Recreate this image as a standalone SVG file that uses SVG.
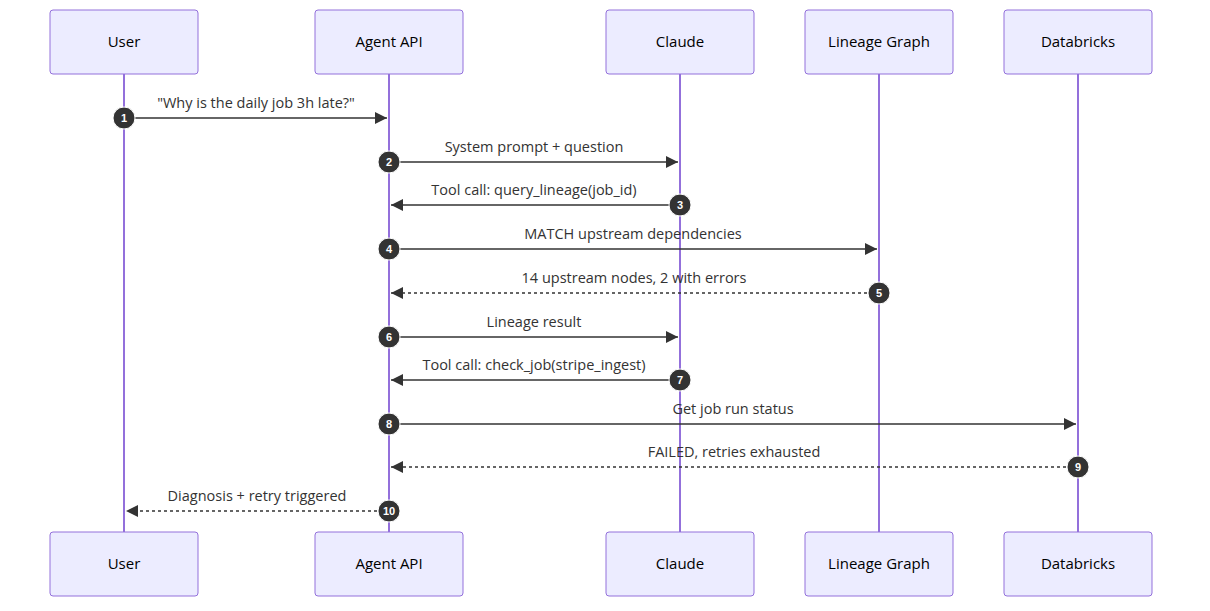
<svg xmlns="http://www.w3.org/2000/svg" width="1210" height="611" viewBox="0 0 1210 611">
<style>
.box{fill:#ECECFF;stroke:#9370DB;stroke-width:1}
.life{stroke:#9370DB;stroke-width:2}
.t{font-family:"Open Sans","Liberation Sans",sans-serif;font-size:15px;fill:#000;text-anchor:middle}
.m{font-family:"Open Sans","Liberation Sans",sans-serif;font-size:14.5px;fill:#333;text-anchor:middle}
.msg{stroke:#333;stroke-width:1.5;fill:none;marker-end:url(#a)}
.d{stroke-dasharray:3,3}
.c{fill:#333;stroke:#fff;stroke-width:1}
.n{font-family:"Liberation Sans",sans-serif;font-size:11px;font-weight:bold;fill:#fff;text-anchor:middle}
</style>
<defs><marker id="a" viewBox="0 0 12 12" refX="12" refY="6" markerWidth="12" markerHeight="12" markerUnits="userSpaceOnUse" orient="auto"><path d="M0,0L12,6L0,12z" fill="#333"/></marker></defs>
<rect width="1210" height="611" fill="#fff"/>
<g id="lifelines">
<line class="life" x1="124" y1="74" x2="124" y2="532"/>
<line class="life" x1="389" y1="74" x2="389" y2="532"/>
<line class="life" x1="680" y1="74" x2="680" y2="532"/>
<line class="life" x1="879" y1="74" x2="879" y2="532"/>
<line class="life" x1="1078" y1="74" x2="1078" y2="532"/>
</g>
<g id="user"><rect class="box" x="50" y="10" width="148" height="64" rx="3"/><text class="t" x="124" y="47">User</text><rect class="box" x="50" y="532" width="148" height="64" rx="3"/><text class="t" x="124" y="569">User</text></g>
<g id="agent"><rect class="box" x="315" y="10" width="148" height="64" rx="3"/><text class="t" x="389" y="47">Agent API</text><rect class="box" x="315" y="532" width="148" height="64" rx="3"/><text class="t" x="389" y="569">Agent API</text></g>
<g id="claude"><rect class="box" x="606" y="10" width="148" height="64" rx="3"/><text class="t" x="680" y="47">Claude</text><rect class="box" x="606" y="532" width="148" height="64" rx="3"/><text class="t" x="680" y="569">Claude</text></g>
<g id="lineage"><rect class="box" x="805" y="10" width="148" height="64" rx="3"/><text class="t" x="879" y="47">Lineage Graph</text><rect class="box" x="805" y="532" width="148" height="64" rx="3"/><text class="t" x="879" y="569">Lineage Graph</text></g>
<g id="databricks"><rect class="box" x="1004" y="10" width="148" height="64" rx="3"/><text class="t" x="1078" y="47">Databricks</text><rect class="box" x="1004" y="532" width="148" height="64" rx="3"/><text class="t" x="1078" y="569">Databricks</text></g>
<g id="connectors">
<line class="msg" x1="124" y1="118" x2="387" y2="118"/><text class="m" x="256" y="108">"Why is the daily job 3h late?"</text>
<line class="msg" x1="389" y1="162" x2="678" y2="162"/><text class="m" x="534" y="152">System prompt + question</text>
<line class="msg" x1="680" y1="205" x2="391" y2="205"/><text class="m" x="534" y="195">Tool call: query_lineage(job_id)</text>
<line class="msg" x1="389" y1="249" x2="877" y2="249"/><text class="m" x="633" y="239">MATCH upstream dependencies</text>
<line class="msg d" x1="879" y1="293" x2="391" y2="293"/><text class="m" x="634" y="283">14 upstream nodes, 2 with errors</text>
<line class="msg" x1="389" y1="337" x2="678" y2="337"/><text class="m" x="534" y="327">Lineage result</text>
<line class="msg" x1="680" y1="380" x2="391" y2="380"/><text class="m" x="534" y="370">Tool call: check_job(stripe_ingest)</text>
<line class="msg" x1="389" y1="424" x2="1076" y2="424"/><text class="m" x="733" y="414">Get job run status</text>
<line class="msg d" x1="1078" y1="467" x2="391" y2="467"/><text class="m" x="734" y="457">FAILED, retries exhausted</text>
<line class="msg d" x1="389" y1="511" x2="126" y2="511"/><text class="m" x="257" y="501">Diagnosis + retry triggered</text>
<circle class="c" cx="124" cy="118" r="11"/><text class="n" x="124" y="122">1</text>
<circle class="c" cx="389" cy="162" r="11"/><text class="n" x="389" y="166">2</text>
<circle class="c" cx="680" cy="205" r="11"/><text class="n" x="680" y="209">3</text>
<circle class="c" cx="389" cy="249" r="11"/><text class="n" x="389" y="253">4</text>
<circle class="c" cx="879" cy="293" r="11"/><text class="n" x="879" y="297">5</text>
<circle class="c" cx="389" cy="337" r="11"/><text class="n" x="389" y="341">6</text>
<circle class="c" cx="680" cy="380" r="11"/><text class="n" x="680" y="384">7</text>
<circle class="c" cx="389" cy="424" r="11"/><text class="n" x="389" y="428">8</text>
<circle class="c" cx="1078" cy="467" r="11"/><text class="n" x="1078" y="471">9</text>
<circle class="c" cx="389" cy="511" r="11"/><text class="n" x="389" y="515">10</text>
</g>
</svg>
